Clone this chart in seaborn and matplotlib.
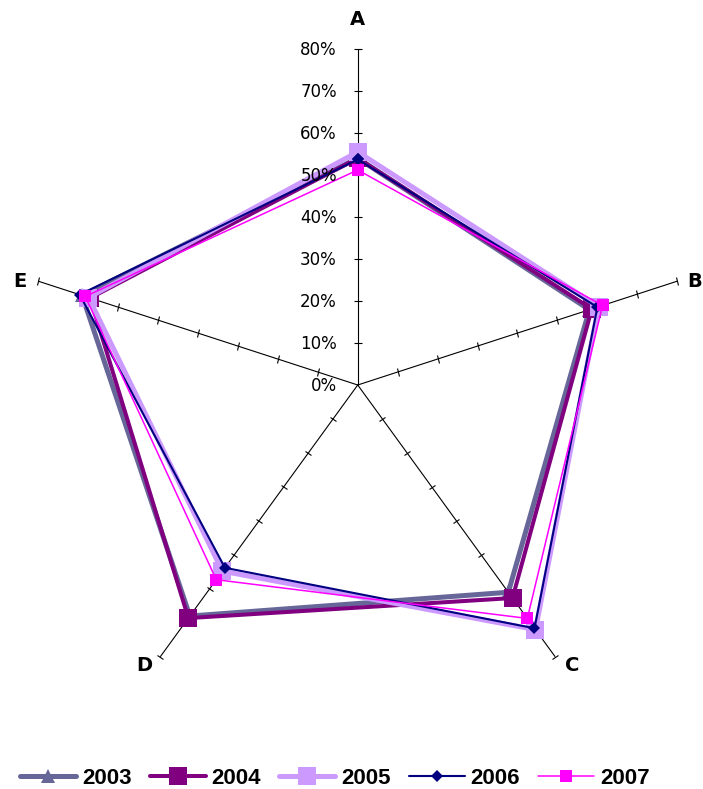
import numpy as np
import pandas as pd
import matplotlib
matplotlib.use("Agg")
from matplotlib import pyplot as plt
from matplotlib.markers import MarkerStyle
from matplotlib.transforms import Affine2D
import seaborn as sns

categories = ["A", "B", "C", "D", "E"]
years = ["2003", "2004", "2005", "2006", "2007"]

v2003 = [0.540, 0.580, 0.610, 0.680, 0.690]
v2004 = [0.540, 0.586, 0.627, 0.686, 0.670]
v2005 = [0.555, 0.603, 0.720, 0.548, 0.674]
v2006 = [0.537, 0.600, 0.716, 0.538, 0.696]
v2007 = [0.512, 0.613, 0.687, 0.573, 0.682]

ticks = [0.0, 0.1, 0.2, 0.3, 0.4, 0.5, 0.6, 0.7, 0.8]
tick_labels = ["0%", "10%", "20%", "30%", "40%", "50%", "60%", "70%", "80%"]

series = {"2003": v2003, "2004": v2004, "2005": v2005, "2006": v2006, "2007": v2007}

# look of each series (colour, line width, marker, marker size)
styles = {
    "2003": ("#666699", 3.6, "^", 9.4),
    "2004": ("#800080", 2.9, "s", 13),
    "2005": ("#CC99FF", 3.6, "s", 13),
    "2006": ("#000080", 1.5, "D", 6.4),
    "2007": ("#FF00FF", 1.1, "s", 8.4),
}

# where category letters sit relative to the spoke tips (points)
label_offsets = [(0, 21), (12.5, 0), (12, -6), (-11.5, -6), (-13, 0)]

sns.set_theme(style="white")
plt.rcParams["font.family"] = ["DejaVu Sans"]
plt.rcParams["text.color"] = "black"

fig = plt.figure(figsize=(7.03, 7.89), dpi=100)
ax = fig.add_axes([0.0309, 0.0862, 0.9559, 0.8517], projection="polar")
ax.set_theta_zero_location("N")
ax.set_theta_direction(-1)
ax.patch.set_alpha(0)
ax.grid(False)
ax.spines["polar"].set_visible(False)

thetas = np.linspace(0, 2 * np.pi, len(categories), endpoint=False)

# spokes with tick marks
for th in thetas:
    ax.plot([th, th], [ticks[0], ticks[-1]], color="black", lw=0.8, zorder=1)
    tick_mark = MarkerStyle("_", transform=Affine2D().rotate_deg(-np.degrees(th)))
    ax.plot([th] * (len(ticks) - 1), ticks[1:], ls="none", marker=tick_mark,
            markersize=5.5, mec="black", mew=0.8, zorder=1, clip_on=False)

for yr in years:
    col, lw, mk, ms = styles[yr]
    vals = series[yr]
    df = pd.DataFrame({"theta": list(thetas) + [thetas[0] + 2 * np.pi],
                       "value": vals + [vals[0]]})
    sns.lineplot(data=df, x="theta", y="value", ax=ax, sort=False, estimator=None,
                 color=col, lw=lw, marker=mk, markersize=ms, mec=col, mew=0,
                 label=yr, clip_on=False, zorder=3)

ax.set_ylim(0, 0.8)
ax.set_xticks([])
ax.set_yticks([])
ax.set_xlabel("")
ax.set_ylabel("")

for r, lab in zip(ticks, tick_labels):
    ax.annotate(lab, xy=(0, r), xytext=(-15, -1), textcoords="offset points",
                ha="right", va="center", fontsize=12, color="black")

for th, cat, off in zip(thetas, categories, label_offsets):
    ax.annotate(cat, xy=(th, 0.8), xytext=off, textcoords="offset points",
                ha="center", va="center", fontsize=14, fontweight="bold", color="black")

handles, labels = ax.get_legend_handles_labels()
if ax.get_legend() is not None:
    ax.get_legend().remove()
fig.legend(handles, labels, loc="center", bbox_to_anchor=(0.4765, 0.0131), ncol=5,
           frameon=False, prop=dict(family="Liberation Sans", weight="bold", size=16),
           labelcolor="black", handlelength=2.52, handletextpad=0.27,
           columnspacing=0.81, borderpad=0)

fig.savefig("out.png", dpi=100)
plt.close()
